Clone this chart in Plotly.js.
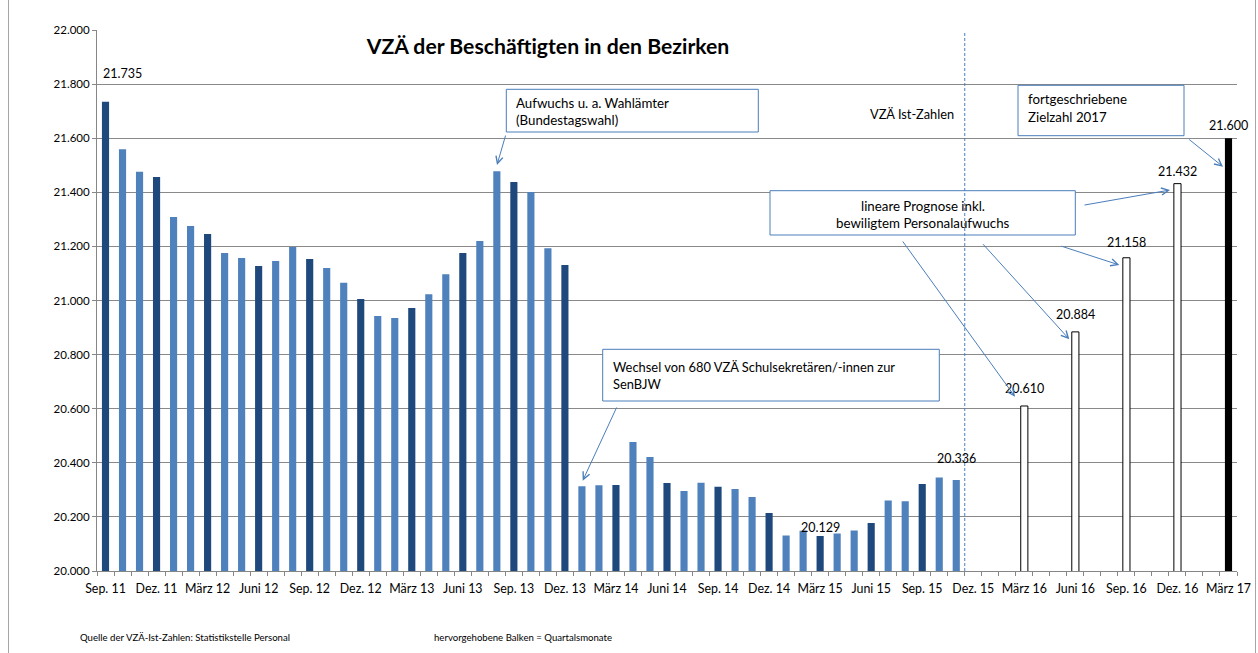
<!DOCTYPE html>
<html>
<head>
<meta charset="utf-8">
<script src="https://cdn.plot.ly/plotly-3.0.1.min.js"></script>
<style>html,body{margin:0;padding:0;background:#fff;}#chart{width:1258px;height:653px;}</style>
</head>
<body>
<div id="chart"></div>
<script>
// ---- data ----
const months = ["Sep. 11","Okt. 11","Nov. 11","Dez. 11",
"Jan. 12","Feb. 12","März 12","Apr. 12","Mai 12","Juni 12","Juli 12","Aug. 12","Sep. 12","Okt. 12","Nov. 12","Dez. 12",
"Jan. 13","Feb. 13","März 13","Apr. 13","Mai 13","Juni 13","Juli 13","Aug. 13","Sep. 13","Okt. 13","Nov. 13","Dez. 13",
"Jan. 14","Feb. 14","März 14","Apr. 14","Mai 14","Juni 14","Juli 14","Aug. 14","Sep. 14","Okt. 14","Nov. 14","Dez. 14",
"Jan. 15","Feb. 15","März 15","Apr. 15","Mai 15","Juni 15","Juli 15","Aug. 15","Sep. 15","Okt. 15","Nov. 15","Dez. 15",
"Jan. 16","Feb. 16","März 16","Apr. 16","Mai 16","Juni 16","Juli 16","Aug. 16","Sep. 16","Okt. 16","Nov. 16","Dez. 16",
"Jan. 17","Feb. 17","März 17"];

const tickLabels = ["Sep. 11","Dez. 11","März 12","Juni 12","Sep. 12","Dez. 12","März 13","Juni 13","Sep. 13","Dez. 13",
"März 14","Juni 14","Sep. 14","Dez. 14","März 15","Juni 15","Sep. 15","Dez. 15","März 16","Juni 16","Sep. 16","Dez. 16","März 17"];

// VZÄ Ist-Zahlen (Sep. 11 - Nov. 15)
const istValues = [21735,21559,21476,21457,21309,21275,21246,21176,21157,21128,21146,21198,21153,21120,21066,21006,
20943,20935,20972,21023,21097,21176,21220,21478,21438,21401,21193,21131,
20313,20317,20318,20477,20421,20325,20296,20326,20311,20303,20274,20214,
20131,20149,20129,20139,20150,20177,20261,20258,20322,20346,20336];

// lineare Prognose
const forecastMonths = ["März 16","Juni 16","Sep. 16","Dez. 16"];
const forecastValues = [20610,20884,21158,21432];

// fortgeschriebene Zielzahl 2017
const targetMonths = ["März 17"];
const targetValues = [21600];

// bars with value labels
const labelMonths = ["Sep. 11","März 15","Nov. 15","März 16","Juni 16","Sep. 16","Dez. 16","März 17"];

// ---- build ----
const DARK = "#1F497D", LIGHT = "#4F81BD", OUT = "#4A7EBB";
const istMonths = months.slice(0, istValues.length);
const istColors = istMonths.map(m => tickLabels.includes(m) ? DARK : LIGHT);

// months without values (drawn by Excel as stubs at the axis)
const emptyMonths = months.filter(m => !istMonths.includes(m) && !forecastMonths.includes(m) && !targetMonths.includes(m));
const emptyColors = emptyMonths.map(m => tickLabels.includes(m) ? DARK : LIGHT);

const W = 0.42;
const traces = [
  {type:"bar", x:istMonths, y:istValues, marker:{color:istColors}, width:W, hoverinfo:"x+y"},
  {type:"bar", x:emptyMonths, y:emptyMonths.map(()=>8), base:19992, marker:{color:emptyColors}, width:W, cliponaxis:false, hoverinfo:"skip"},
  {type:"bar", x:forecastMonths, y:forecastValues, marker:{color:"#FFFFFF", line:{color:"#000000", width:1}}, width:W},
  {type:"bar", x:targetMonths, y:targetValues, marker:{color:"#000000"}, width:W}
];

// pixel -> paper helpers (plot area 97..1237 x 30..571)
const L = 97, T = 30, PW = 1140, PH = 541;
const px = v => (v - L) / PW;
const py = v => (571 - v) / PH;

const FONT = "Lato, 'Open Sans', sans-serif";

function valueOf(m){
  let i = istMonths.indexOf(m); if (i >= 0) return istValues[i];
  i = forecastMonths.indexOf(m); if (i >= 0) return forecastValues[i];
  i = targetMonths.indexOf(m); if (i >= 0) return targetValues[i];
  return null;
}
const labelShift = {"Sep. 11":[17,28],"März 15":[0,9],"Nov. 15":[0,22],"März 16":[0,17.5],"Juni 16":[0,17],"Sep. 16":[0,15.5],"Dez. 16":[0,12.5],"März 17":[0,13]};

const annotations = [];
labelMonths.forEach(m => {
  const v = valueOf(m);
  annotations.push({xref:"x", yref:"y", x:m, y:v, text:(v/1000).toFixed(3), showarrow:false,
    xanchor:"center", yanchor:"middle", xshift:labelShift[m][0], yshift:labelShift[m][1],
    font:{family:FONT, size:12.5, color:"#000"}});
});

function txt(t, x, y, anchor, size){
  annotations.push({xref:"paper", yref:"paper", x:px(x), y:py(y), text:t, showarrow:false,
    xanchor:anchor, yanchor:"middle", borderpad:0, font:{family:FONT, size:size||13.3, color:"#000"}});
}
txt("Aufwuchs u. a. Wahlämter", 515, 102.7, "left");
txt("(Bundestagswahl)", 515, 120, "left");
txt("VZÄ Ist-Zahlen", 869, 114, "left", 12.8);
txt("fortgeschriebene", 1027, 99.3, "left");
txt("Zielzahl 2017", 1027, 116.7, "left");
txt("lineare Prognose inkl.", 922.5, 205.7, "center");
txt("bewiligtem Personalaufwuchs", 922.5, 222.7, "center");
txt("Wechsel von 680 VZÄ Schulsekretären/-innen zur", 612, 366.7, "left", 12.9);
txt("SenBJW", 612, 384.3, "left", 12.9);
txt("Quelle der VZÄ-Ist-Zahlen: Statistikstelle Personal", 79, 637, "left", 9.6);
txt("hervorgehobene Balken = Quartalsmonate", 433, 637, "left", 9.6);

function arrow(hx, hy, tx, ty){
  annotations.push({xref:"paper", yref:"paper", x:px(hx), y:py(hy), ax:tx-hx, ay:ty-hy, text:"",
    showarrow:true, arrowhead:5, arrowsize:1.4, arrowwidth:1, arrowcolor:OUT, standoff:0, startstandoff:0});
}
arrow(497,165, 506,134);
arrow(1223,166.7, 1187.7,138.3);
arrow(1170,190, 1083,205.3);
arrow(1119.3,265, 1060,245.7);
arrow(1069.3,339.3, 981.7,242.7);
arrow(1015,396.7, 901.7,240);
arrow(582.7,480.7, 617.3,406);

function box(x0,y0,x1,y1){
  return {type:"rect", xref:"paper", yref:"paper", x0:px(x0), x1:px(x1), y0:py(y1), y1:py(y0),
    line:{color:OUT, width:1}, fillcolor:"#FFFFFF", layer:"above"};
}
const shapes = [
  box(506.3,89.3,758.3,132),
  box(1018,85.3,1184,135.7),
  box(770,190.7,1075.3,235),
  box(602.7,349.3,939.3,401),
  {type:"line", xref:"x", yref:"paper", x0:50.5, x1:50.5, y0:0, y1:py(31), line:{color:OUT, width:1, dash:"3px,2px"}, layer:"above"},
  {type:"line", xref:"paper", yref:"paper", x0:px(8.5), x1:px(8.5), y0:py(-5), y1:py(660), line:{color:"#A6A6A6", width:1}},
  {type:"line", xref:"paper", yref:"paper", x0:px(1255.5), x1:px(1255.5), y0:py(-5), y1:py(660), line:{color:"#A6A6A6", width:1}}
];

const layout = {
  width:1258, height:653,
  margin:{l:L, r:1258-L-PW, t:T, b:653-571},
  paper_bgcolor:"#FFFFFF", plot_bgcolor:"#FFFFFF",
  separators:",.",
  showlegend:false,
  barmode:"overlay",
  title:{text:"<b>VZÄ der Beschäftigten in den Bezirken</b>", x:548/1258, xanchor:"center", y:1-47/653, yanchor:"middle",
    font:{family:FONT, size:21.2, color:"#000"}},
  xaxis:{type:"category", categoryorder:"array", categoryarray:months, range:[-0.5, months.length-0.5],
    tickvals:months, ticktext:months.map(m => tickLabels.includes(m) ? m : ""),
    tickson:"boundaries", ticks:"outside", ticklen:4, tickcolor:"#868686", tickwidth:1,
    showgrid:false, showline:true, linecolor:"#868686", linewidth:1, ticklabelstandoff:6,
    tickangle:0, tickfont:{family:FONT, size:12.4, color:"#000"}, fixedrange:true},
  yaxis:{range:[20000,22000], dtick:200, tick0:20000, tickformat:",.0f", ticks:"outside", ticklen:4,
    tickcolor:"#868686", showline:true, linecolor:"#868686", linewidth:1,
    showgrid:true, gridcolor:"#898989", gridwidth:1, zeroline:false,
    tickfont:{family:FONT, size:11.5, color:"#000"}, fixedrange:true},
  annotations:annotations,
  shapes:shapes
};

Plotly.newPlot("chart", traces, layout, {displayModeBar:false, staticPlot:true});
</script>
</body>
</html>
